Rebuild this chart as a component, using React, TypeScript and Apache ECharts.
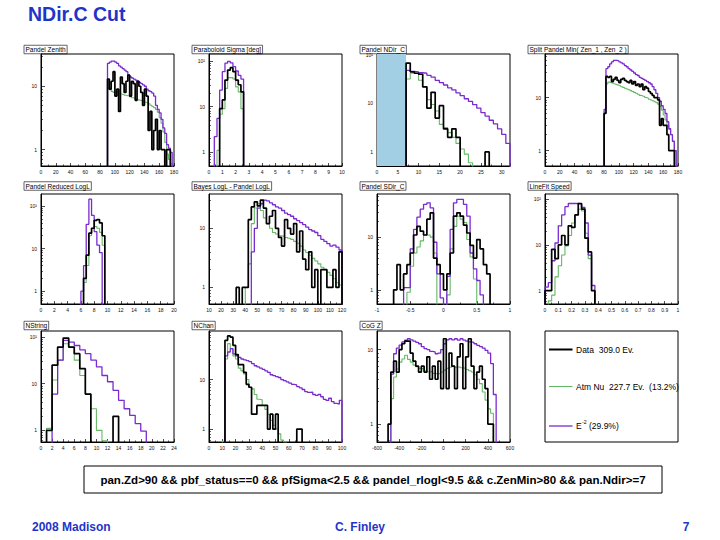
import { useEffect, useRef } from 'react';
import * as echarts from 'echarts';

// ---------------- data (counts per bin) ----------------
// Pandel Zenith: bins of 2.5 deg from 90
const zenithData = [13, 9, 12, 17, 7, 9, 4, 14, 11, 8, 12, 15, 7, 12, 11, 6, 12, 10, 8, 5, 9, 7, 2, 4, 1, 2, 3, 1, 2, 1, 1, 0, 1, 1, 0, 0];
const zenithAtm = [9.4, 8.8, 8.3, 8, 7.9, 7.8, 7.6, 7.5, 7.4, 7.2, 7.1, 7, 6.8, 6.6, 6.5, 6.3, 6.1, 6, 5.9, 5.8, 5.6, 5.5, 5.3, 5, 4.8, 4.6, 4.3, 3.9, 3.2, 2.6, 1.9, 1.3, 0.85, 0.7, 0.6, 0];
const zenithE2 = [23, 24, 25, 25, 24, 23, 21, 20, 19, 18, 17, 15, 14, 13.5, 13, 12.5, 12, 11.5, 11, 10.5, 10, 9, 8.5, 8.2, 7.8, 7, 5, 4.3, 3.8, 3, 2.2, 1.8, 1.2, 1.05, 0.9, 0];

// Paraboloid Sigma: bins of 0.2 from 0.4
const sigmaData = [0, 0, 9, 14, 38, 63, 71, 58, 38, 30, 21];
const sigmaAtm = [0, 1.1, 6.8, 9, 25, 43, 43, 40, 27, 21, 9];
const sigmaE2 = [2.2, 5.5, 23, 58, 89, 97, 90, 75, 60, 48, 40];

// Pandel NDir_C: bins of 1 from 7
const ndirData = [68, 45, 42, 40, 22, 8, 17, 5, 9, 3, 2, 3, 2, 0, 0, 0, 0, 0, 0, 1, 0, 0, 0, 0, 0];
const ndirAtm = [32, 42, 42, 30, 22, 12, 9.5, 7, 3.7, 3.2, 2.5, 2, 1.5, 1.15, 0.9, 0.6, 0, 0, 0, 0, 0, 0, 0, 0, 0];
const ndirE2 = [48, 46, 45, 43, 42, 38, 35, 30, 27, 24, 21, 19, 16.5, 14.5, 12.5, 11, 9.5, 8, 6.5, 5.5, 4.5, 3.8, 3, 2.3, 1.5];

// Split Pandel Min zenith: bins of 2.5 deg from 80
const splitData = [5, 25, 24, 25, 20, 22, 24, 21, 19, 22, 23, 21, 20, 19, 21, 18, 20, 17, 18, 16, 18, 14, 16, 15, 13, 12, 11, 10, 10, 9, 3, 4, 3, 3, 2, 1, 1, 1, 0, 0];
const splitAtm = [5.2, 18, 19.5, 19, 18.5, 18, 17.5, 17, 16.5, 16, 15.5, 15, 14.5, 14, 13.5, 13, 12.5, 12, 11.5, 11, 10.7, 10.4, 10, 9.7, 9.3, 9, 8.7, 8.3, 8, 7.5, 6.8, 5.8, 4.7, 3.8, 3, 2.5, 2, 1.5, 1, 0.5];
const splitE2 = [6, 35, 38, 43, 47, 50, 50, 49, 47, 45, 43, 40, 38, 35, 33, 31, 29, 27, 26, 24, 23, 22, 21, 20, 19, 18, 16, 14, 12, 10, 8.5, 7, 6, 5, 3.5, 2.6, 2, 1.5, 1.0, 0];

// Pandel reduced logL: bins of 0.4 from 6.0
const rloglData = [0, 2, 7, 23, 30, 46, 48, 40, 20];
const rloglAtm = [0, 1.6, 4, 20, 30, 33, 30, 24, 12];
const rloglE2 = [1, 4, 37, 144, 60, 25, 12, 8, 0];

// Bayes - Pandel logL: bins of 2.5 from 32.5
const bayesData = [1, 0, 1, 1, 14, 23, 28, 24, 30, 22, 12, 16, 20, 10, 7, 5, 14, 10, 8, 12, 4, 9, 3, 2, 4, 1, 2, 0, 2, 2, 1, 1, 2, 1, 4];
const bayesAtm = [0, 0, 0, 1, 2.5, 12, 22, 26, 20, 15, 12, 10, 8.5, 8, 7.5, 7.3, 7, 6.8, 6.5, 6, 5.6, 5, 4.3, 3.9, 3.5, 3.1, 2.8, 2.5, 2.2, 2, 1.8, 1.6, 1.4, 1.2, 1.1];
const bayesE2 = [0, 0, 0, 0, 0, 4, 10, 22, 26, 30, 29, 27, 25, 23, 22, 20, 18, 17, 16, 14.5, 13.5, 12.5, 11.5, 10.5, 9.5, 9, 8.5, 7.5, 6.5, 6, 5.5, 5, 5.2, 4.8, 4.3];

// Pandel SDir_C: bins of 0.05 from -1
const sdirData = [0, 0, 0, 0, 0, 1, 3, 1, 2, 3, 5, 11, 16, 13, 11, 22, 29, 4, 3, 2, 1, 2, 5, 25, 29, 25, 17, 12, 7, 4, 9, 6, 3, 2, 0, 0, 0, 0, 0, 0];
const sdirAtm = [0, 0, 0, 0, 0, 0, 0, 0, 0, 0.9, 2.8, 5, 6.5, 8.5, 11, 11, 10, 5, 0, 0, 0, 0.8, 6, 16, 25, 22, 19, 9, 4.2, 1.6, 0, 0, 0, 0, 0, 0, 0, 0, 0, 0];
const sdirE2 = [0, 0, 0, 0, 0, 0, 0, 0, 1.1, 1.1, 6, 14, 24, 34, 42, 45, 36, 8, 2, 0.7, 0, 1.8, 14, 45, 52, 52, 42, 25, 5, 2.5, 1.5, 0.8, 0, 0, 0, 0, 0, 0, 0, 0];

// LineFit speed: bins of 0.025 from 0
const speedData = [1, 1, 8, 5, 10, 16, 10, 26, 24, 45, 80, 60, 14, 7, 1];
const speedAtm = [0, 0.6, 0.8, 2, 3.5, 6, 9.5, 16, 30, 45, 60, 55, 18, 5, 1];
const speedE2 = [1.2, 1.5, 4.5, 11, 26, 45, 68, 80, 80, 80, 78, 66, 30, 6, 1.3];

// NString: bins of 1 from 1
const nstringData = [1, 25, 61, 95, 61, 44, 21, 6, 0, 0, 0, 0, 2, 0, 0, 0, 0, 0];
const nstringAtm = [1.1, 12, 32, 72, 61, 32, 15, 6, 2.9, 1, 0.6, 0, 0, 0, 0, 0, 0, 0];
const nstringE2 = [0, 6, 32, 85, 78, 66, 53, 44, 32, 23, 15, 11, 7.2, 4.4, 2.9, 2.1, 1.4, 0.96];

// NChan: bins of 2 from 10
const nchanData = [0, 62, 76, 72, 49, 32, 20, 20, 14, 8, 7, 2, 2, 3, 3, 3, 3, 1, 2, 1, 2, 0, 0, 0, 0, 0, 0, 0, 1, 1, 0, 0, 0, 0, 0, 0, 0, 0, 0, 0, 0, 0, 0, 0, 0];
const nchanAtm = [0.57, 26, 53, 42, 30, 26, 17, 15, 13, 10, 7, 6.5, 5, 4, 3.9, 3, 2.5, 2, 1.5, 1.2, 1, 0.8, 0.6, 0.55, 0, 0, 0, 0, 0, 0, 0, 0, 0, 0, 0, 0, 0, 0, 0, 0, 0, 0, 0, 0, 0];
const nchanE2 = [0, 30, 36, 42, 33, 30, 28, 26, 25, 24, 23, 21, 19, 18, 17, 16, 15, 14, 12.5, 12, 11.5, 11, 10, 9.5, 9, 8.5, 8, 7.8, 7.2, 6.8, 6.3, 5.7, 5.5, 5.6, 5, 4.8, 5, 4.5, 4, 3.8, 4.2, 3.6, 3.3, 3.2, 3.8];

// CoG Z: bins of 25 from -500
const cogzData = [1, 5, 7, 5, 10, 12, 13, 13, 9, 7, 6, 5, 6, 5, 8, 4, 6, 4, 7, 3, 14, 3, 9, 6, 3, 8, 12, 3, 8, 14, 6, 3, 5, 6, 4, 3, 1, 1, 0];
const cogzAtm = [0.6, 2.2, 4.3, 5.5, 6.8, 7.5, 8.4, 7.4, 6.8, 6.2, 5.9, 5.6, 5.5, 5.2, 5, 5.1, 4.8, 4.7, 4.8, 5, 5.3, 5.6, 5.8, 6, 5.8, 5.9, 5.7, 5.6, 5.4, 5.2, 5, 4.6, 4, 3.5, 2.7, 2.1, 1.6, 1.4, 0];
const cogzE2 = [0.5, 4.7, 8.8, 10.5, 11.5, 12.7, 13.4, 14, 13.5, 13, 12.5, 12, 11, 10.3, 10, 9.5, 9.3, 8.8, 9, 10, 12, 13.5, 14, 13.5, 14, 13.4, 14, 13.4, 13, 12.7, 12.5, 12, 11.4, 11, 10.5, 9.8, 9, 6.5, 2.5];

const panelTitles = [
  'Pandel Zenith', 'Paraboloid Sigma [deg]', 'Pandel NDir_C', 'Split Pandel Min( Zen_1 , Zen_2 )',
  'Pandel Reduced LogL', 'Bayes LogL - Pandel LogL', 'Pandel SDir_C', 'LineFit Speed',
  'NString', 'NChan', 'CoG Z',
];
// [min, max, label step]
const xRanges = [
  [0, 180, 20], [0, 10, 1], [0, 32, 5], [0, 180, 20],
  [0, 20, 2], [10, 120, 10], [-1, 1, 0.5], [0, 1, 0.1],
  [0, 24, 2], [0, 100, 10], [-600, 600, 200],
];
// log10 of y-axis min and max
const yLogRanges = [
  [-0.26, 1.51], [-0.3, 2.15], [-0.29, 2.02], [-0.29, 1.82],
  [-0.3, 2.28], [-0.28, 1.58], [-0.27, 1.82], [-0.29, 2.11],
  [-0.25, 2.13], [-0.26, 1.98], [-0.24, 1.25],
];
const binStarts = [90, 0.4, 7, 80, 6.0, 32.5, -1, 0, 1, 10, -500];
const binWidths = [2.5, 0.2, 1, 2.5, 0.4, 2.5, 0.05, 0.025, 1, 2, 25];
const dataSets = [zenithData, sigmaData, ndirData, splitData, rloglData, bayesData, sdirData, speedData, nstringData, nchanData, cogzData];
const atmSets = [zenithAtm, sigmaAtm, ndirAtm, splitAtm, rloglAtm, bayesAtm, sdirAtm, speedAtm, nstringAtm, nchanAtm, cogzAtm];
const e2Sets = [zenithE2, sigmaE2, ndirE2, splitE2, rloglE2, bayesE2, sdirE2, speedE2, nstringE2, nchanE2, cogzE2];
const ndirCutRange = [0, 7];

const slideTitle = 'NDir.C Cut';
const cutText = 'pan.Zd>90 && pbf_status==0 && pfSigma<2.5 && pandel_rlogl<9.5 && c.ZenMin>80 && pan.Ndir>=7';
const legendLabels = ['Data  309.0 Ev.', 'Atm Nu  227.7 Ev.  (13.2%)', '(29.9%)'];
const footerLeft = '2008 Madison';
const footerMid = 'C. Finley';
const footerRight = '7';

// ---------------- layout & style ----------------
const FONT = '"Liberation Sans", Arial, Helvetica, sans-serif';
const BLUE = '#1f35c8';
const C_DATA = '#000000';
const C_ATM = '#66b866';
const C_E2 = '#7a2bd0';
const colLeft = [41, 209, 377, 545];
const rowTop = [54, 194, 331];
const rowH = [112, 110, 111];
const frameW = 133;
const titleY = [49.5, 186, 325.5];

function histPoints(start: number, width: number, vals: number[], floor: number) {
  const f = (v: number) => (v > 0 ? Math.log10(v) : floor);
  const pts: number[][] = [[start, floor]];
  vals.forEach((v, i) => pts.push([start + i * width, f(v)]));
  const end = start + vals.length * width;
  pts.push([end, f(vals[vals.length - 1])]);
  pts.push([end, floor]);
  return pts;
}

function buildOption() {
  const grid: any[] = [];
  const xAxis: any[] = [];
  const yAxis: any[] = [];
  const series: any[] = [];
  const graphic: any[] = [];

  panelTitles.forEach((title, i) => {
    const row = Math.floor(i / 4);
    const col = i % 4;
    const [ymin, ymax] = yLogRanges[i];
    const [xmin, xmax, xstep] = xRanges[i];
    grid.push({
      left: colLeft[col], top: rowTop[row], width: frameW, height: rowH[row],
      show: true, borderColor: '#000', borderWidth: 1, containLabel: false,
    });
    const nSteps = (xmax - xmin) / xstep;
    const endsOnTick = Math.abs(nSteps - Math.round(nSteps)) < 1e-6;
    xAxis.push({
      gridIndex: i, type: 'value', min: xmin, max: xmax, interval: xstep,
      axisLine: { onZero: false, lineStyle: { color: '#000', width: 1 } },
      axisTick: { inside: true, length: 3, lineStyle: { color: '#000', width: 0.7 } },
      minorTick: { show: true, splitNumber: 2, length: 1.6, lineStyle: { color: '#000', width: 0.6 } },
      splitLine: { show: false },
      axisLabel: {
        fontSize: 5, color: '#111', margin: 3, fontFamily: FONT,
        showMaxLabel: endsOnTick ? true : false, hideOverlap: false,
      },
    });
    const majors = [0, 1, 2].filter((d) => d >= ymin && d <= ymax);
    const minors: number[] = [];
    for (let d = -1; d <= 2; d++) {
      for (let m = 2; m <= 9; m++) {
        const v = d + Math.log10(m);
        if (v > ymin && v < ymax) minors.push(v);
      }
    }
    yAxis.push({
      gridIndex: i, type: 'value', min: ymin, max: ymax, position: 'left',
      axisLine: { onZero: false, lineStyle: { color: '#000', width: 1 } },
      axisTick: { inside: true, length: 4, customValues: majors, lineStyle: { color: '#000', width: 0.7 } },
      splitLine: { show: false },
      axisLabel: {
        customValues: majors, fontSize: 5, color: '#111', margin: 4, fontFamily: FONT,
        formatter: (v: number) => (Math.abs(v) < 1e-6 ? '1' : Math.abs(v - 1) < 1e-6 ? '10' : '10²'),
      },
    });
    yAxis.push({
      gridIndex: i, type: 'value', min: ymin, max: ymax, position: 'left', offset: 0,
      axisLine: { show: false, onZero: false },
      axisTick: { inside: true, length: 2, customValues: minors, lineStyle: { color: '#000', width: 0.6 } },
      axisLabel: { show: false },
      splitLine: { show: false },
    });
    const floor = ymin - 1;
    const base = {
      type: 'line', xAxisIndex: i, yAxisIndex: 2 * i, step: 'end', symbol: 'none',
      showSymbol: false, silent: true, clip: true, animation: false,
    };
    const atmSeries: any = {
      ...base, name: 'atm' + i,
      data: histPoints(binStarts[i], binWidths[i], atmSets[i], floor),
      lineStyle: { color: C_ATM, width: 1.1 },
    };
    if (i === 2) {
      atmSeries.markArea = {
        silent: true,
        itemStyle: { color: '#a3cfe4' },
        data: [[{ xAxis: ndirCutRange[0] }, { xAxis: ndirCutRange[1] }]],
      };
    }
    series.push(atmSeries);
    series.push({
      ...base, name: 'e2' + i,
      data: histPoints(binStarts[i], binWidths[i], e2Sets[i], floor),
      lineStyle: { color: C_E2, width: 1.3 },
    });
    series.push({
      ...base, name: 'data' + i,
      data: histPoints(binStarts[i], binWidths[i], dataSets[i], floor),
      lineStyle: { color: C_DATA, width: 1.7 },
    });

    graphic.push({
      type: 'text', x: colLeft[col] - 17, y: titleY[row],
      style: {
        text: title, font: `6.5px ${FONT}`, fill: '#000', align: 'left', verticalAlign: 'middle',
        borderColor: '#222', borderWidth: 0.7, padding: [1, 1.5, 0.5, 1.5],
      },
    });
  });

  // legend pad
  const lx = colLeft[3];
  const ly = rowTop[2];
  graphic.push({ type: 'rect', shape: { x: lx, y: ly, width: frameW, height: rowH[2] }, style: { fill: '#fff', stroke: '#000', lineWidth: 1 } });
  const legY = [ly + 18.5, ly + 55.5, ly + 95];
  const legC = [C_DATA, C_ATM, C_E2];
  const legW = [2, 1.1, 1.3];
  const legFont = `8.5px ${FONT}`;
  legY.forEach((yy, k) => {
    graphic.push({ type: 'line', shape: { x1: lx + 4, y1: yy, x2: lx + 27.5, y2: yy }, style: { stroke: legC[k], lineWidth: legW[k] } });
  });
  graphic.push({ type: 'text', x: lx + 31, y: legY[0], style: { text: legendLabels[0], font: legFont, fill: '#000', verticalAlign: 'middle' } });
  graphic.push({ type: 'text', x: lx + 31, y: legY[1], style: { text: legendLabels[1], font: legFont, fill: '#000', verticalAlign: 'middle' } });
  graphic.push({ type: 'text', x: lx + 31, y: legY[2], style: { text: 'E', font: legFont, fill: '#000', verticalAlign: 'middle' } });
  graphic.push({ type: 'text', x: lx + 37, y: legY[2] - 3.6, style: { text: '-2', font: `5.2px ${FONT}`, fill: '#000', verticalAlign: 'middle' } });
  graphic.push({ type: 'text', x: lx + 44, y: legY[2], style: { text: legendLabels[2], font: legFont, fill: '#000', verticalAlign: 'middle' } });

  // slide decorations
  graphic.push({ type: 'text', x: 28, y: 14, style: { text: slideTitle, font: `bold 19.5px ${FONT}`, fill: BLUE, verticalAlign: 'middle' } });
  graphic.push({ type: 'rect', shape: { x: 84, y: 466, width: 578, height: 27 }, style: { fill: '#fff', stroke: '#000', lineWidth: 1 } });
  graphic.push({ type: 'text', x: 373, y: 480, style: { text: cutText, font: `bold 11.5px ${FONT}`, fill: '#000', align: 'center', verticalAlign: 'middle' } });
  graphic.push({ type: 'text', x: 32, y: 527, style: { text: footerLeft, font: `bold 12px ${FONT}`, fill: BLUE, verticalAlign: 'middle' } });
  graphic.push({ type: 'text', x: 360, y: 527, style: { text: footerMid, font: `bold 12px ${FONT}`, fill: BLUE, align: 'center', verticalAlign: 'middle' } });
  graphic.push({ type: 'text', x: 686, y: 527, style: { text: footerRight, font: `bold 12px ${FONT}`, fill: BLUE, align: 'center', verticalAlign: 'middle' } });

  return { animation: false, backgroundColor: '#fff', grid, xAxis, yAxis, series, graphic };
}

export default function App() {
  const ref = useRef<HTMLDivElement>(null);
  useEffect(() => {
    const chart = echarts.init(ref.current!, null, { renderer: 'svg' });
    chart.setOption(buildOption() as any);
    return () => chart.dispose();
  }, []);
  return <div ref={ref} style={{ position: 'absolute', left: 0, top: 0, width: 720, height: 540, background: '#fff' }} />;
}
